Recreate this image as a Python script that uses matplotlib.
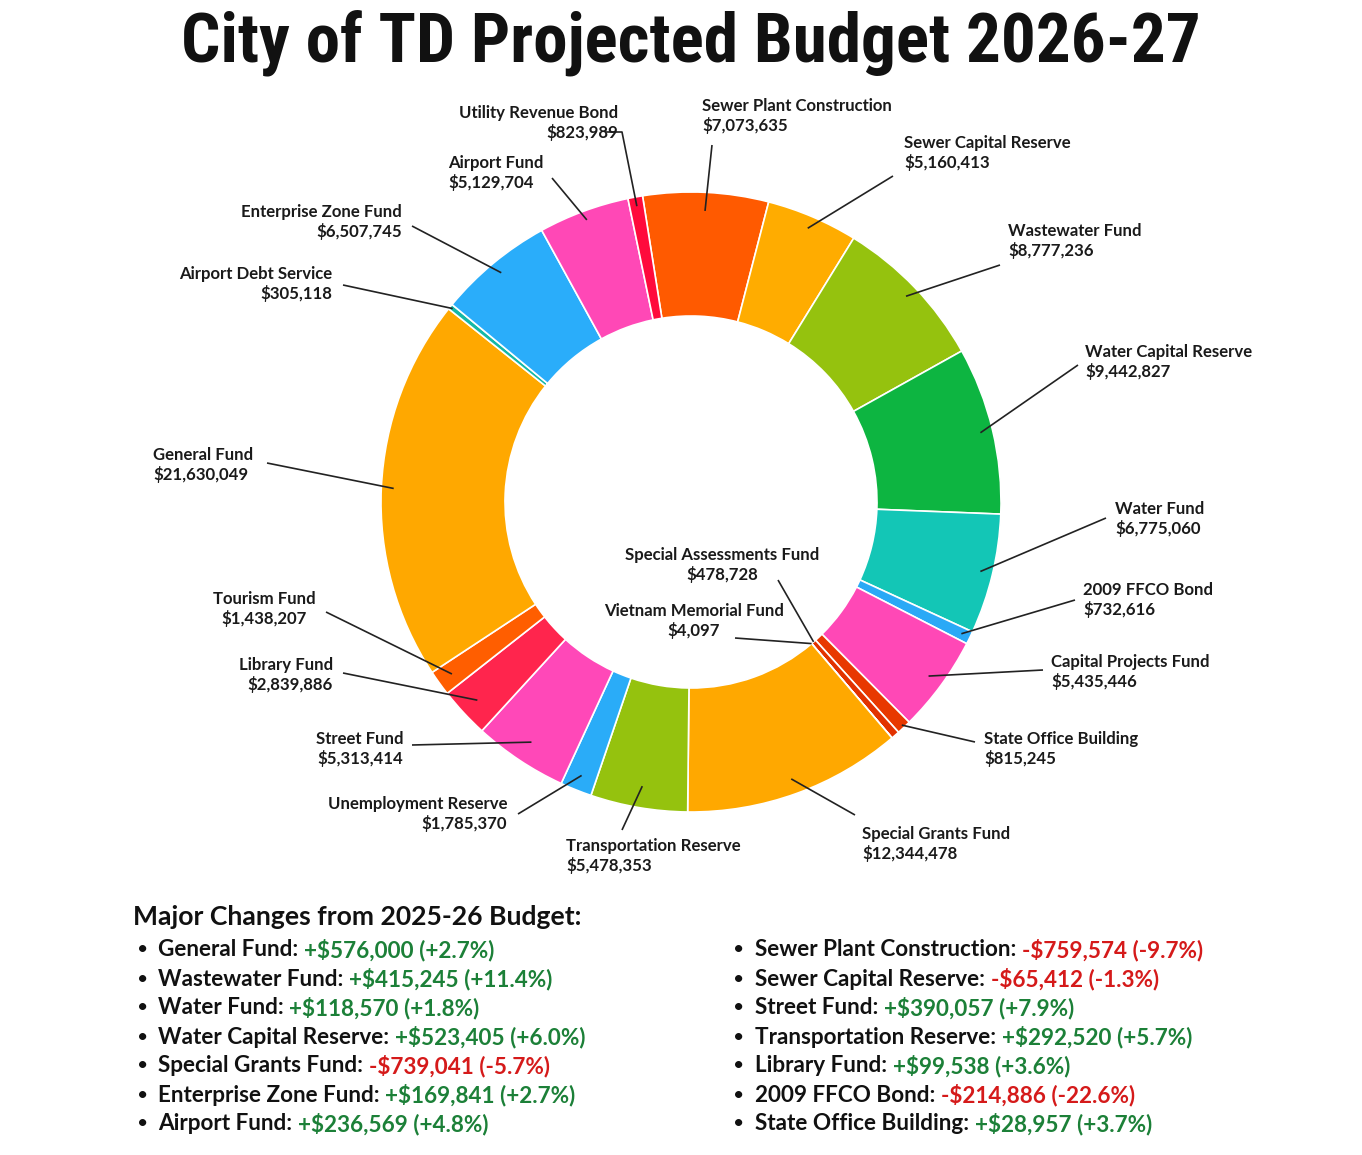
import matplotlib
matplotlib.use("Agg")
import matplotlib.pyplot as plt
from matplotlib import font_manager
import numpy as np

# ---------------- data ----------------
funds = [
    "Sewer Plant Construction", "Sewer Capital Reserve", "Wastewater Fund",
    "Water Capital Reserve", "Water Fund", "2009 FFCO Bond",
    "Capital Projects Fund", "State Office Building", "Special Assessments Fund",
    "Vietnam Memorial Fund", "Special Grants Fund", "Transportation Reserve",
    "Unemployment Reserve", "Street Fund", "Library Fund", "Tourism Fund",
    "General Fund", "Airport Debt Service", "Enterprise Zone Fund",
    "Airport Fund", "Utility Revenue Bond",
]
amounts = [
    7073635, 5160413, 8777236, 9442827, 6775060, 732616, 5435446, 815245,
    478728, 4097, 12344478, 5478353, 1785370, 5313414, 2839886, 1438207,
    21630049, 305118, 6507745, 5129704, 823989,
]

changes_left_names = ["General Fund", "Wastewater Fund", "Water Fund",
                      "Water Capital Reserve", "Special Grants Fund",
                      "Enterprise Zone Fund", "Airport Fund"]
changes_left_values = ["+$576,000 (+2.7%)", "+$415,245 (+11.4%)",
                       "+$118,570 (+1.8%)", "+$523,405 (+6.0%)",
                       "-$739,041 (-5.7%)", "+$169,841 (+2.7%)",
                       "+$236,569 (+4.8%)"]
changes_right_names = ["Sewer Plant Construction", "Sewer Capital Reserve",
                       "Street Fund", "Transportation Reserve", "Library Fund",
                       "2009 FFCO Bond", "State Office Building"]
changes_right_values = ["-$759,574 (-9.7%)", "-$65,412 (-1.3%)",
                        "+$390,057 (+7.9%)", "+$292,520 (+5.7%)",
                        "+$99,538 (+3.6%)", "-$214,886 (-22.6%)",
                        "+$28,957 (+3.7%)"]

title = "City of TD Projected Budget 2026-27"
changes_header = "Major Changes from 2025-26 Budget:"

# ---------------- style ----------------
slice_colors = {
    "Sewer Plant Construction": "#FF5A00", "Sewer Capital Reserve": "#FFAC00",
    "Wastewater Fund": "#95C20E", "Water Capital Reserve": "#0DB541",
    "Water Fund": "#13C6B6", "2009 FFCO Bond": "#2AA9F6",
    "Capital Projects Fund": "#FF48B6", "State Office Building": "#E83800",
    "Special Assessments Fund": "#E23200", "Vietnam Memorial Fund": "#FFA800",
    "Special Grants Fund": "#FFA800", "Transportation Reserve": "#95C20E",
    "Unemployment Reserve": "#2AACF8", "Street Fund": "#FF48B8",
    "Library Fund": "#FF254D", "Tourism Fund": "#FF5E00",
    "General Fund": "#FFA800", "Airport Debt Service": "#14B8A6",
    "Enterprise Zone Fund": "#2AADFA", "Airport Fund": "#FF48B6",
    "Utility Revenue Bond": "#FF0A3C",
}
explode_map = {"2009 FFCO Bond": 0.035, "State Office Building": 0.03,
               "Special Assessments Fund": 0.03, "Utility Revenue Bond": 0.015,
               "Airport Debt Service": 0.02}

# label layout: x, y (center of two lines, px from top), ha, leader start (x, y), anchor radius factor
label_layout = {
    "Utility Revenue Bond": (618, 123, "right", (605, 132), 0.97),
    "Sewer Plant Construction": (702, 116, "left", (712, 145), 0.94),
    "Sewer Capital Reserve": (904, 153, "left", (893, 176), 0.96),
    "Wastewater Fund": (1008, 241, "left", (1000, 265), 0.96),
    "Water Capital Reserve": (1085, 362, "left", (1078, 365), 0.96),
    "Water Fund": (1115, 519, "left", (1106, 518), 0.96),
    "2009 FFCO Bond": (1083, 600, "left", (1075, 600), 0.97),
    "Capital Projects Fund": (1051, 672, "left", (1043, 670), 0.95),
    "State Office Building": (984, 749, "left", (975, 742), 0.99),
    "Special Grants Fund": (862, 844, "left", (855, 815), 0.95),
    "Transportation Reserve": (566, 856, "left", (622, 830), 0.93),
    "Unemployment Reserve": (507, 814, "right", (518, 814), 0.95),
    "Street Fund": (403, 749, "right", (412, 745), 0.93),
    "Library Fund": (333, 675, "right", (343, 673), 0.94),
    "Tourism Fund": (264, 609, "center", (326, 612), 0.95),
    "General Fund": (153, 465, "left", (267, 463), 0.96),
    "Airport Debt Service": (332, 284, "right", (343, 285), 0.99),
    "Enterprise Zone Fund": (402, 222, "right", (412, 226), 0.96),
    "Airport Fund": (448, 173, "left", (552, 178), 0.97),
    "Special Assessments Fund": (722, 565, "center", (778, 580), 0.60),
    "Vietnam Memorial Fund": (694, 621, "center", (735, 638), 0.60),
}

W, H = 1362, 1155
CX, CY = 691, 502
R, RIN = 310, 186


def py(y):
    return H - y


avail = {f.name for f in font_manager.fontManager.ttflist}
title_family = next((f for f in ["Liberation Sans Narrow", "Roboto Condensed",
                                 "Open Sans Condensed", "Roboto"] if f in avail), "DejaVu Sans")
label_family = "Lato" if "Lato" in avail else "DejaVu Sans"

fig = plt.figure(figsize=(W / 100, H / 100), dpi=100)
fig.patch.set_facecolor("white")
ax = fig.add_axes([0, 0, 1, 1])

colors = [slice_colors[f] for f in funds]
explode = [explode_map.get(f, 0.0) for f in funds]
wedges, _ = ax.pie(amounts, colors=colors, explode=explode, radius=R,
                   center=(CX, py(CY)), startangle=99, counterclock=False,
                   wedgeprops=dict(width=R - RIN, edgecolor="white", linewidth=1.2))
ax.set_xlim(0, W)
ax.set_ylim(0, H)
ax.set_aspect("equal")
ax.axis("off")

lab_fs = 12.1
for f, v, w in zip(funds, amounts, wedges):
    x, y, ha, (sx, sy), rf = label_layout[f]
    ax.text(x, py(y), f"{f}\n${v:,.0f}", ha=ha, va="center", multialignment=ha,
            fontsize=lab_fs, fontfamily=label_family, fontweight="bold",
            color="#1a1a1a", linespacing=1.15)
    th = np.deg2rad((w.theta1 + w.theta2) / 2)
    wc = w.center
    ex = wc[0] + rf * R * np.cos(th)
    ey = wc[1] + rf * R * np.sin(th)
    xs, ys = [sx], [py(sy)]
    if f == "Utility Revenue Bond":
        xs.append(622); ys.append(py(132))
    xs.append(ex); ys.append(ey)
    ax.plot(xs, ys, color="#222222", lw=1.2, solid_capstyle="butt")

# title fitted to width
t = ax.text(691, py(43), title, ha="center", va="center", fontsize=46,
            fontfamily=title_family, fontweight="bold", color="#111111")
fig.canvas.draw()
r = fig.canvas.get_renderer()
bw = t.get_window_extent(r).width
t.set_fontsize(46 * 1020 / bw)

# changes block
ax.text(133, py(917), changes_header, ha="left", va="center", fontsize=19.1,
        fontfamily=label_family, fontweight="bold", color="#111111")

GREEN, RED = "#1C8038", "#D51A1A"
row_y = [950 + 29 * i for i in range(7)]
cols = [(137, 158, changes_left_names, changes_left_values),
        (733, 755, changes_right_names, changes_right_values)]
for bx, tx, names, vals in cols:
    for yy, n, v in zip(row_y, names, vals):
        ax.text(bx, py(yy), "\u2022", ha="left", va="center", fontsize=14,
                fontfamily=label_family, color="#111111")
        nt = ax.text(tx, py(yy), n + ":", ha="left", va="center", fontsize=16.2,
                     fontfamily=label_family, fontweight="bold", color="#111111")
        ax.annotate(v, xy=(1, 0.5), xycoords=nt, xytext=(4, 0),
                    textcoords="offset points", ha="left", va="center",
                    fontsize=16.2, fontfamily=label_family, fontweight="bold",
                    color=RED if v.startswith("-") else GREEN)

fig.savefig("out.png", dpi=100, facecolor="white")
